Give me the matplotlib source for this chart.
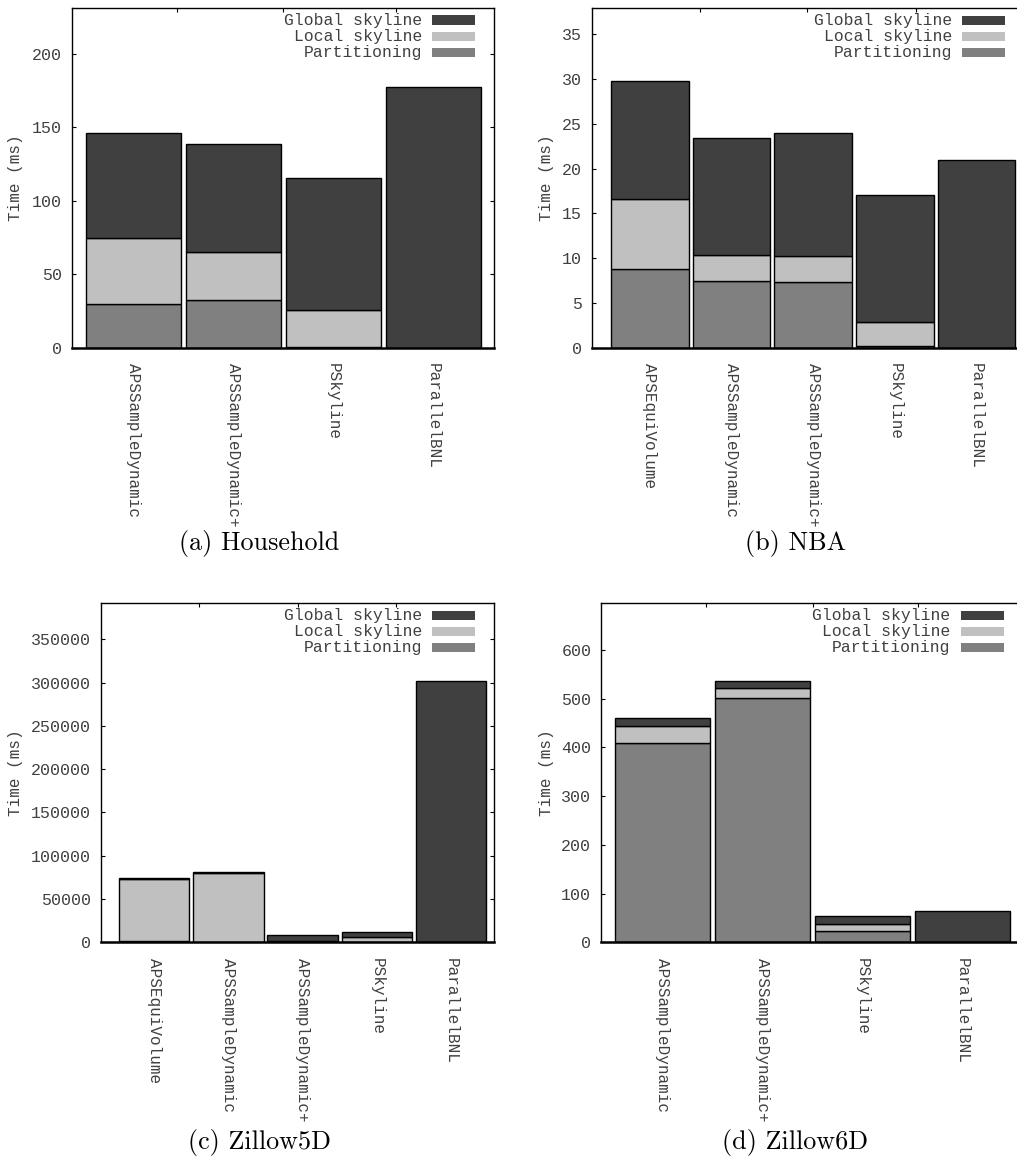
import matplotlib
matplotlib.use("Agg")
import matplotlib.pyplot as plt
from matplotlib.patches import Rectangle

# Stacked running times per algorithm: partitioning, local skyline, global skyline (ms)
household_methods = ["APSSampleDynamic", "APSSampleDynamic+", "PSkyline", "ParallelBNL"]
household_part = [30.0, 32.7, 1.0, 0.0]
household_local = [45.0, 32.4, 25.0, 0.0]
household_global = [71.3, 73.5, 89.6, 177.6]

nba_methods = ["APSEquiVolume", "APSSampleDynamic", "APSSampleDynamic+", "PSkyline", "ParallelBNL"]
nba_part = [8.75, 7.45, 7.3, 0.15, 0.0]
nba_local = [7.8, 2.9, 2.95, 2.7, 0.0]
nba_global = [13.2, 13.1, 13.75, 14.15, 21.0]

z5_methods = ["APSEquiVolume", "APSSampleDynamic", "APSSampleDynamic+", "PSkyline", "ParallelBNL"]
z5_part = [1500, 800, 1200, 300, 0]
z5_local = [72100, 79700, 400, 6200, 0]
z5_global = [300, 350, 6800, 5050, 301500]

z6_methods = ["APSSampleDynamic", "APSSampleDynamic+", "PSkyline", "ParallelBNL"]
z6_part = [408.5, 500.8, 22.6, 0.0]
z6_local = [35.5, 21.2, 15.0, 0.0]
z6_global = [15.8, 15.0, 16.4, 63.6]

legend_labels = ["Global skyline", "Local skyline", "Partitioning"]
colors = {"part": "#808080", "local": "#c0c0c0", "global": "#404040"}

W, H = 1017, 1159
MONO = "Liberation Mono"
TXT = "#404040"

fig = plt.figure(figsize=(W / 100, H / 100), dpi=100)


def panel(rect, methods, part, local, glob, ylim, yticks, xlim, top_ticks,
          label_x, caption, cap_xy):
    left, top, right, bottom = rect
    ax = fig.add_axes([left / W, 1 - bottom / H, (right - left) / W, (bottom - top) / H])
    x = list(range(len(methods)))
    base2 = [p + l for p, l in zip(part, local)]
    kw = dict(width=0.95, edgecolor="black", linewidth=1.0, zorder=2)
    ax.bar(x, part, color=colors["part"], **kw)
    ax.bar(x, local, bottom=part, color=colors["local"], **kw)
    ax.bar(x, glob, bottom=base2, color=colors["global"], **kw)

    ax.set_xlim(*xlim)
    ax.set_ylim(0, ylim)
    ax.set_yticks(yticks)
    ax.set_xticks(x)
    ax.set_xticklabels(methods, rotation=-90, family=MONO, fontsize=11.5, color=TXT)
    for t in ax.get_yticklabels():
        t.set_family(MONO)
        t.set_fontsize(12)
        t.set_color(TXT)
    ax.tick_params(axis="y", direction="in", length=3, width=0.8, right=True, pad=7)
    ax.tick_params(axis="x", length=0, pad=11)
    for s in ax.spines.values():
        s.set_linewidth(1.0)
    ax.spines["bottom"].set_linewidth(1.8)

    # small mirrored ticks along the top border
    top_ax = ax.secondary_xaxis("top")
    top_ax.set_xticks(top_ticks)
    top_ax.set_xticklabels([])
    top_ax.tick_params(direction="in", length=3, width=0.8)
    top_ax.spines["top"].set_visible(False)

    ax.set_ylabel("Time (ms)", family=MONO, fontsize=11.5, color=TXT, va="center")
    ax.yaxis.set_label_coords((label_x - left) / (right - left), 0.5)

    # key: right-aligned text with swatch on the right
    wpx, hpx = right - left, bottom - top
    for i, (lab, c) in enumerate(zip(legend_labels, ["global", "local", "part"])):
        yc = 1 - (12 + 16.3 * i) / hpx
        ax.text(1 - 72 / wpx, yc, lab, transform=ax.transAxes, ha="right", va="center",
                family=MONO, fontsize=11.8, color=TXT)
        ax.add_patch(Rectangle((1 - 61.7 / wpx, yc - 4.5 / hpx), 42.7 / wpx, 9 / hpx,
                               transform=ax.transAxes, facecolor=colors[c],
                               edgecolor="none", clip_on=False, zorder=3))

    fig.text(cap_xy[0] / W, 1 - cap_xy[1] / H, caption, family="cmr10", fontsize=18.8,
             ha="center", va="center", color="black")
    return ax


panel((72, 8, 494, 348), household_methods, household_part, household_local, household_global,
      231.2, range(0, 201, 50), (-0.615, 3.605), [0.435, 1.495, 2.625],
      16, "(a) Household", (259, 544))
panel((591.7, 8.3, 1024, 347.7), nba_methods, nba_part, nba_local, nba_global,
      37.9, range(0, 36, 5), (-0.71, 4.58), [0.61, 1.925, 3.26],
      546, "(b) NBA", (796, 544))
panel((100.7, 603.3, 494, 942.3), z5_methods, z5_part, z5_local, z5_global,
      391600, range(0, 350001, 50000), (-0.72, 4.58), [0.61, 1.935, 3.26],
      16, "(c) Zillow5D", (260, 1143))
panel((601, 603.3, 1022.5, 942.3), z6_methods, z6_part, z6_local, z6_global,
      695.8, range(0, 601, 100), (-0.62, 3.6), [0.436, 1.498, 2.556],
      546, "(d) Zillow6D", (795, 1143))

fig.savefig("out.png", dpi=100)
